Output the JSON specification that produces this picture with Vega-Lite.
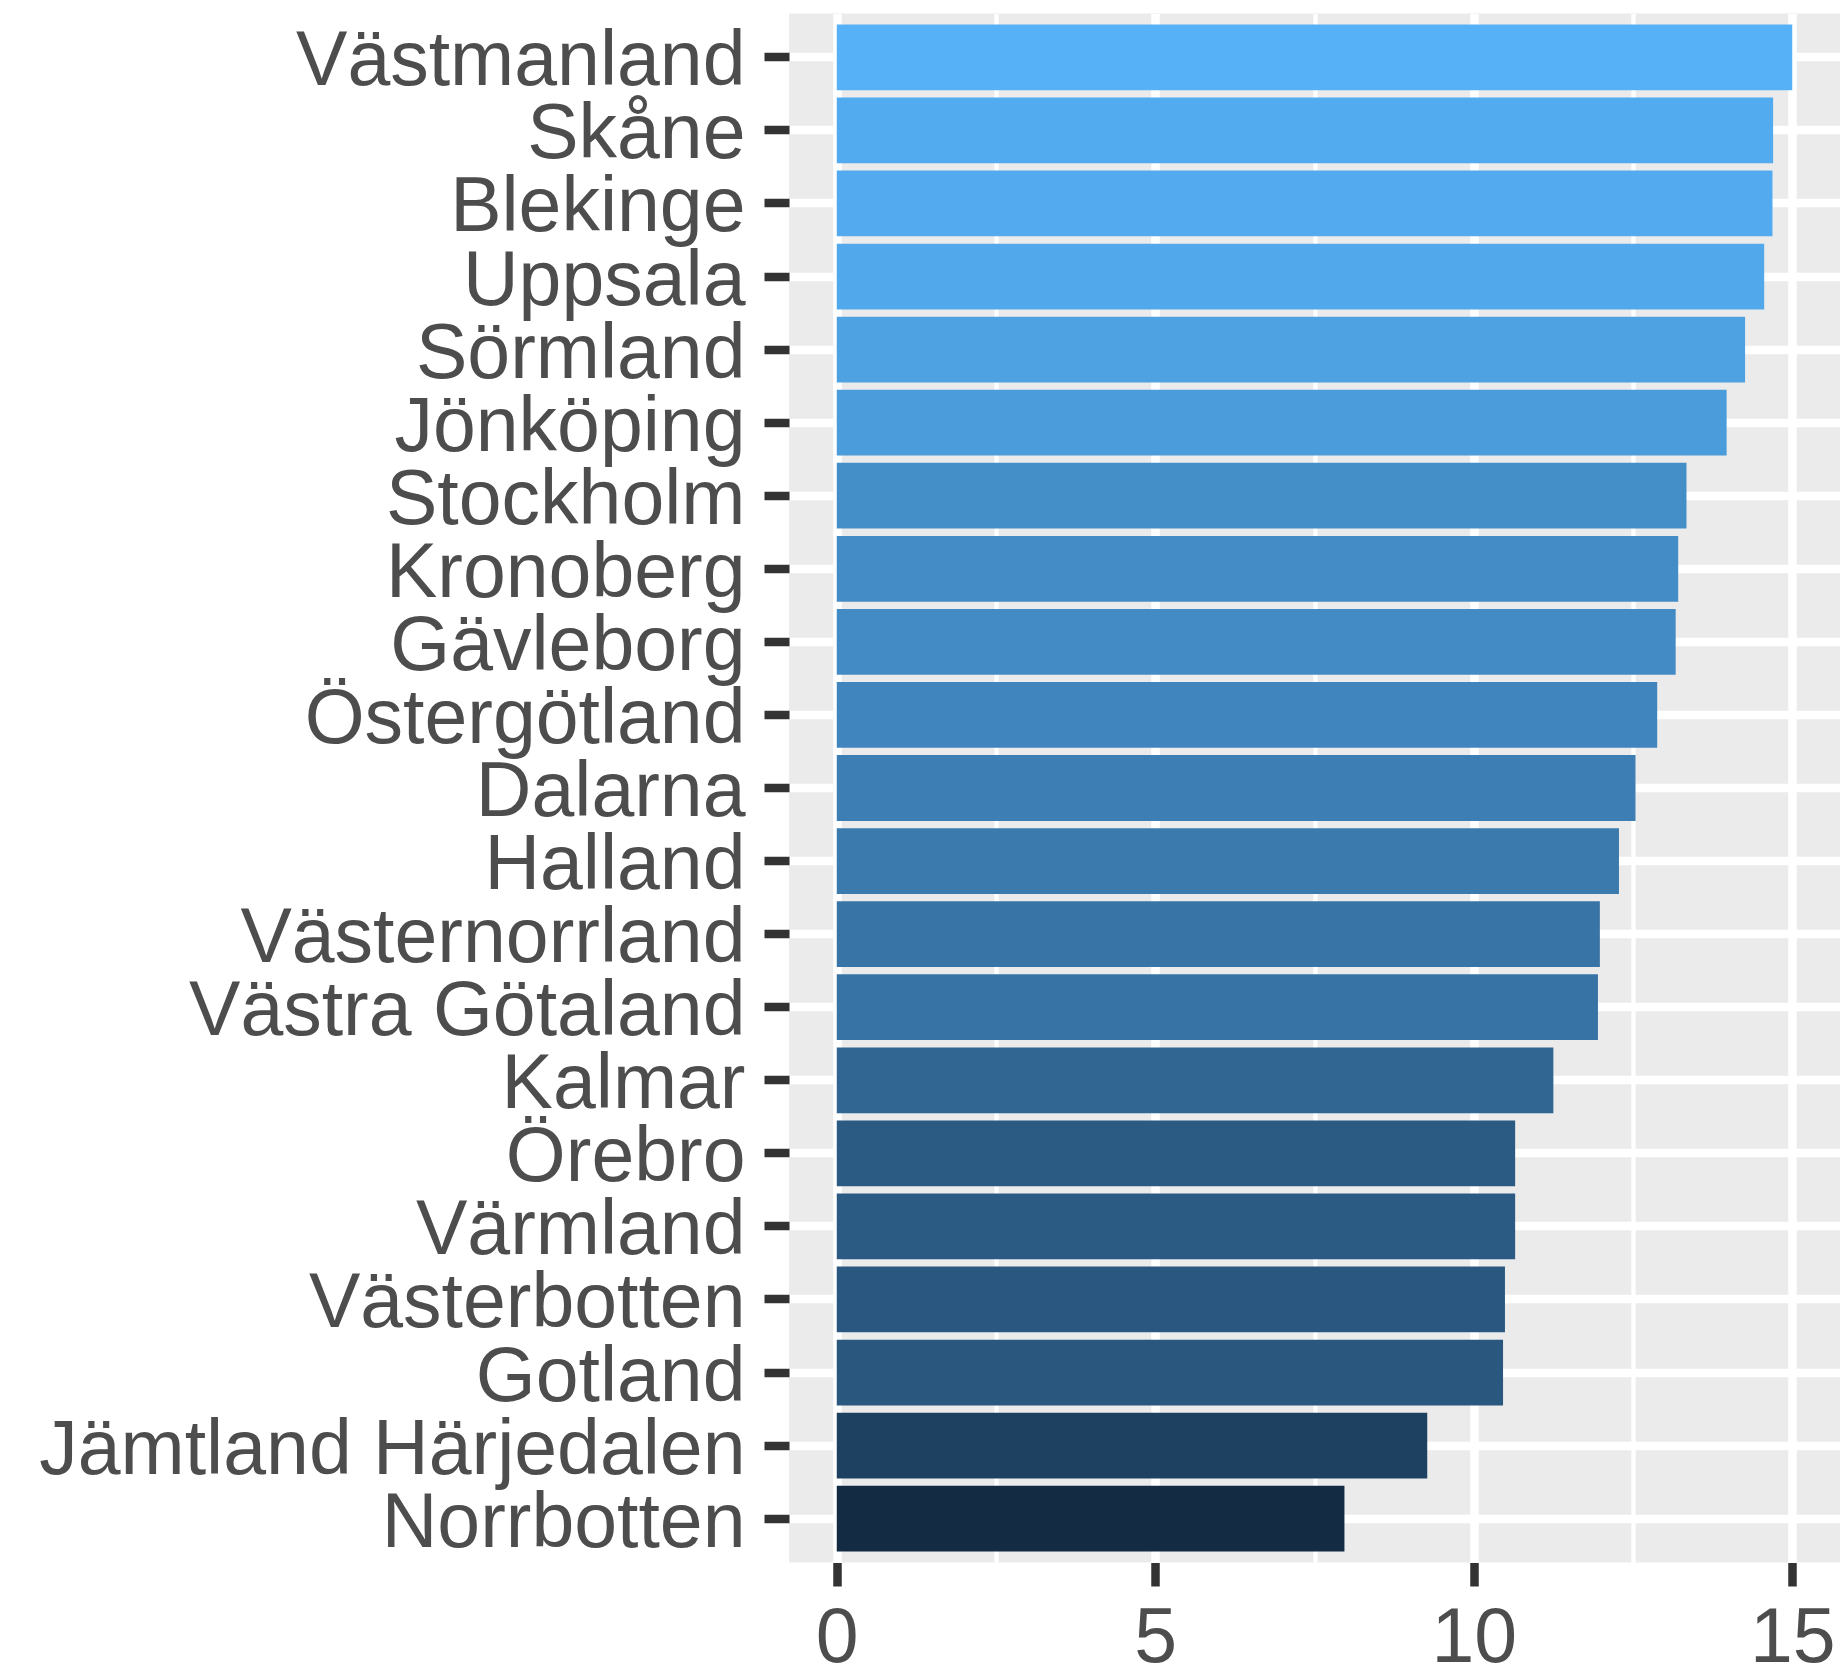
{
  "$schema": "https://vega.github.io/schema/vega-lite/v6.json",
  "width": 1051,
  "height": 1549,
  "autosize": {"type": "none"},
  "padding": {"left": 789, "top": 13.5, "right": 0, "bottom": 115.5},
  "background": "white",
  "config": {"view": {"fill": "#EBEBEB", "stroke": null}, "font": "Liberation Sans"},
  "data": {
    "values": [
      {"region": "Västmanland", "value": 15.0},
      {"region": "Skåne", "value": 14.70},
      {"region": "Blekinge", "value": 14.69},
      {"region": "Uppsala", "value": 14.56},
      {"region": "Sörmland", "value": 14.26},
      {"region": "Jönköping", "value": 13.97},
      {"region": "Stockholm", "value": 13.34},
      {"region": "Kronoberg", "value": 13.21},
      {"region": "Gävleborg", "value": 13.17},
      {"region": "Östergötland", "value": 12.88},
      {"region": "Dalarna", "value": 12.54},
      {"region": "Halland", "value": 12.28},
      {"region": "Västernorrland", "value": 11.98},
      {"region": "Västra Götaland", "value": 11.95},
      {"region": "Kalmar", "value": 11.25},
      {"region": "Örebro", "value": 10.65},
      {"region": "Värmland", "value": 10.65},
      {"region": "Västerbotten", "value": 10.49},
      {"region": "Gotland", "value": 10.46},
      {"region": "Jämtland Härjedalen", "value": 9.27},
      {"region": "Norrbotten", "value": 7.97}
    ]
  },
  "mark": {"type": "bar"},
  "encoding": {
    "y": {
      "field": "region",
      "type": "nominal",
      "sort": null,
      "scale": {"paddingInner": 0.1, "paddingOuter": 0.15},
      "axis": {
        "title": null,
        "domain": false,
        "labelFontSize": 77,
        "labelColor": "#4D4D4D",
        "labelPadding": 19,
        "labelOffset": 5,
        "labelLimit": 2000,
        "labelOverlap": false,
        "tickSize": 25,
        "tickWidth": 8.5,
        "tickColor": "#333333",
        "grid": true,
        "gridColor": "white",
        "gridWidth": 8.5,
        "bandPosition": 0.5
      }
    },
    "x": {
      "field": "value",
      "type": "quantitative",
      "scale": {"domain": [-0.75, 15.75], "nice": false},
      "axis": {
        "title": null,
        "domain": false,
        "values": [0, 2.5, 5, 7.5, 10, 12.5, 15],
        "labelExpr": "datum.value % 5 === 0 ? format(datum.value, 'd') : ''",
        "labelFontSize": 77,
        "labelColor": "#4D4D4D",
        "labelPadding": 14,
        "labelFlush": false,
        "labelOverlap": false,
        "tickSize": 23.5,
        "tickWidth": 8.5,
        "tickColor": "#333333",
        "tickOpacity": {"condition": {"test": "datum.value % 5 !== 0", "value": 0}, "value": 1},
        "grid": true,
        "gridColor": "white",
        "gridWidth": {"condition": {"test": "datum.value % 5 !== 0", "value": 4.3}, "value": 8.5}
      }
    },
    "color": {
      "field": "value",
      "type": "quantitative",
      "scale": {"range": ["#132B43", "#56B1F7"], "interpolate": "lab", "zero": false, "nice": false},
      "legend": null
    }
  }
}
